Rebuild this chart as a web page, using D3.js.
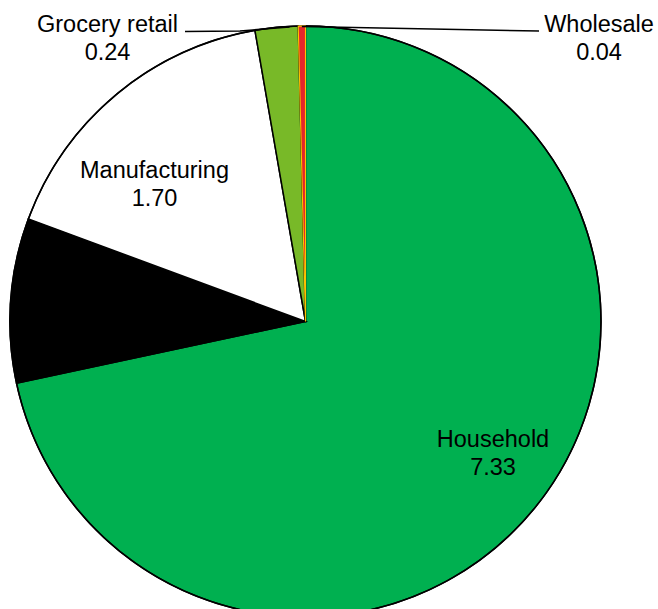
<!DOCTYPE html>
<html><head><meta charset="utf-8">
<script src="https://cdn.jsdelivr.net/npm/d3@7"></script>
<style>html,body{margin:0;padding:0;background:#fff;overflow:hidden}</style>
</head><body>
<svg id="chart" width="658" height="609"></svg>
<script>
const categories = ["Household", "", "Manufacturing", "Grocery retail", "Wholesale"];
const values = [7.33, 0.92, 1.70, 0.24, 0.04];
const valueLabels = ["7.33", "", "1.70", "0.24", "0.04"];
const colors = ["#00B050", "#000000", "#FFFFFF", "#78B928", "#E4262B"];
const strokes = ["#000000", "#000000", "#000000", "#000000", "#FFC000"];

const svg = d3.select("#chart");
const cx = 305.5, cy = 321.5, R = 295.5;
const g = svg.append("g").attr("transform", `translate(${cx},${cy})`);

const data = categories.map((c, i) => ({name: c, value: values[i], label: valueLabels[i], color: colors[i], stroke: strokes[i]}));
const pie = d3.pie().value(d => d.value).sort(null).startAngle(0).endAngle(2 * Math.PI);
const arcs = pie(data);
const arc = d3.arc().innerRadius(0).outerRadius(R);

g.selectAll("path.slice").data(arcs.filter(a => a.data.stroke === "#000000")).join("path")
  .attr("class", "slice")
  .attr("d", arc)
  .attr("fill", d => d.data.color)
  .attr("stroke", d => d.data.stroke)
  .attr("stroke-width", 1.5);

// outer outline
g.append("circle").attr("r", R).attr("fill", "none").attr("stroke", "#000").attr("stroke-width", 1.5);

// slice with coloured border on top
g.selectAll("path.hl").data(arcs.filter(a => a.data.stroke !== "#000000")).join("path")
  .attr("class", "hl")
  .attr("d", arc)
  .attr("fill", d => d.data.color)
  .attr("stroke", d => d.data.stroke)
  .attr("stroke-width", 1.1);

// label placement
const fontSize = 23.5, lineH = 28.3;
const labelPos = {
  "Household": [493, 446.5],
  "Manufacturing": [154.5, 178],
  "Grocery retail": [107.5, 32],
  "Wholesale": [599, 32]
};
const txt = svg.append("g")
  .attr("font-family", "'Liberation Sans', Arial, sans-serif")
  .attr("font-size", fontSize)
  .attr("fill", "#000")
  .attr("text-anchor", "middle");
arcs.forEach(a => {
  const p = labelPos[a.data.name];
  if (!p) return;
  const t = txt.append("text").attr("x", p[0]).attr("y", p[1]);
  t.append("tspan").attr("x", p[0]).attr("dy", 0).text(a.data.name);
  t.append("tspan").attr("x", p[0]).attr("dy", lineH).text(a.data.label);
});

// leader lines from outside labels to their slices
function edgePoint(a, frac) {
  const ang = a.startAngle + (a.endAngle - a.startAngle) * frac;
  return [cx + R * Math.sin(ang), cy - R * Math.cos(ang)];
}
const groc = arcs[3], whole = arcs[4];
const gp = edgePoint(groc, 0.8);
const wp = edgePoint(whole, 0.5);
svg.append("polyline")
  .attr("points", [[185, 31.5], [240, 31], [gp[0], gp[1] + 0.5]].map(p => p.join(",")).join(" "))
  .attr("fill", "none").attr("stroke", "#000").attr("stroke-width", 1.5);
svg.append("polyline")
  .attr("points", [[wp[0], wp[1] + 0.5], [539, 31]].map(p => p.join(",")).join(" "))
  .attr("fill", "none").attr("stroke", "#000").attr("stroke-width", 1.5);
</script>
</body></html>
